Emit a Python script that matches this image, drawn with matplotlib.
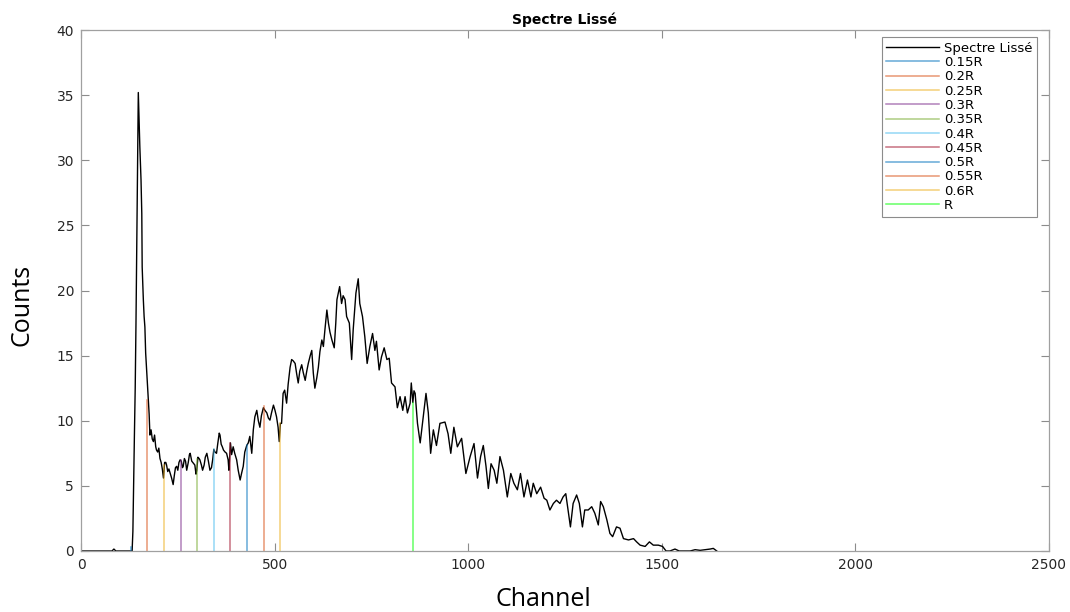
import numpy as np
import matplotlib
matplotlib.use("Agg")
import matplotlib.pyplot as plt

# smoothed spectrum (channel, counts)
channel = [0, 80, 85, 90, 132, 134, 136, 138, 140, 142, 144, 146, 148,
           150, 152, 155, 157, 158, 161, 163, 165, 167, 170, 174,
           176, 178, 181, 184, 187, 190, 193, 195, 198, 201, 204, 207, 210,
           213, 216, 219, 221, 224, 227, 230, 234, 238, 241, 244, 247, 250,
           253, 256, 259, 262, 264, 267, 270, 273, 277, 280, 282, 286, 290,
           294, 297, 299, 302, 305, 307, 311, 314, 318, 321, 325, 329, 333,
           337, 340, 343, 346, 350, 353, 357, 359, 362, 365, 368, 372, 376,
           380, 382, 386, 389, 393, 397, 402, 406, 411, 415, 419, 423, 428,
           432, 436, 441, 445, 449, 454, 458, 462, 466, 471, 475, 480, 484,
           488, 492, 497, 501, 505, 509, 512, 515, 518, 522, 526, 531, 535,
           540, 544, 548, 553, 557, 561, 565, 570, 574, 579, 583, 587, 592,
           596, 600, 604, 609, 613, 617, 622, 626, 630, 635, 639, 643, 648,
           654, 658, 661, 668, 673, 677, 682, 686, 693, 699, 703, 710, 716,
           720, 727, 733, 739, 746, 753, 759, 763, 770, 776, 783, 790, 796,
           802, 811, 817, 824, 831, 837, 843, 850, 853, 857, 860, 863, 869,
           876, 884, 891, 897, 903, 910, 918, 927, 940, 948, 955, 963, 972,
           983, 994, 1005, 1015, 1024, 1032, 1039, 1046, 1052, 1059, 1067,
           1074, 1082, 1091, 1101, 1110, 1118, 1127, 1135, 1144, 1153, 1162,
           1168, 1177, 1187, 1196, 1203, 1211, 1220, 1228, 1237, 1245, 1252,
           1258, 1264, 1271, 1280, 1287, 1295, 1301, 1310, 1319, 1327, 1336,
           1342, 1349, 1358, 1366, 1373, 1383, 1392, 1401, 1414, 1427, 1435,
           1444, 1457, 1468, 1478, 1491, 1502, 1511, 1521, 1534, 1545, 1556,
           1573, 1586, 1599, 1612, 1625, 1633, 1642]
counts = [0, 0, 0.15, 0, 0, 1.5, 5.5, 9.0, 12.5, 17.5, 23.5, 29.5, 35.2,
          33.0, 31.0, 28.5, 25.9, 21.8, 19.3, 18.0, 17.2, 15.2, 13.65, 11.6,
          10.5, 8.9, 9.3, 8.6, 8.4, 8.9, 8.0, 7.75, 7.6, 7.9, 7.1, 6.8, 6.3,
          5.6, 6.8, 6.8, 6.6, 6.1, 6.3, 6.0, 5.6, 5.1, 5.8, 6.4, 6.5, 6.2,
          6.8, 7.0, 6.9, 6.4, 6.5, 7.1, 6.9, 6.2, 6.8, 7.4, 7.5, 6.9, 6.75,
          6.6, 5.9, 6.2, 7.2, 7.1, 7.0, 6.6, 6.2, 6.6, 7.2, 7.5, 6.9, 6.2,
          6.4, 7.0, 7.8, 7.6, 7.5, 8.2, 9.05, 8.9, 8.2, 8.0, 7.75, 7.6, 7.5,
          7.0, 6.2, 8.3, 7.4, 8.0, 7.5, 7.0, 6.2, 5.45, 6.0, 6.5, 7.6, 8.1,
          8.3, 8.8, 7.5, 9.3, 10.3, 10.8, 10.0, 9.5, 10.4, 11.0, 10.8, 10.6, 10.2,
          10.05, 10.6, 11.2, 10.8, 10.3, 9.5, 8.4, 9.8, 9.8, 12.1, 12.35, 11.35, 12.8,
          14.1, 14.7, 14.6, 14.4, 13.6, 12.9, 13.8, 14.3, 13.7, 13.1, 13.8, 14.4, 15.0,
          15.4, 13.65, 12.5, 13.3, 14.1, 15.3, 16.2, 15.7, 17.0, 18.5, 17.5, 16.8, 16.2,
          15.6, 17.5, 19.3, 20.3, 19.0, 19.6, 19.3, 18.0, 17.5, 14.7, 17.0, 19.8, 20.9,
          19.0, 18.0, 16.45, 14.4, 15.7, 16.7, 15.4, 16.1, 13.9, 14.9, 15.6, 14.7, 14.8,
          12.9, 12.6, 11.0, 11.85, 10.8, 11.85, 10.6, 11.35, 12.9, 11.4, 12.3, 12.1, 9.8,
          8.3, 10.3, 12.1, 10.6, 7.5, 9.3, 8.1, 9.8, 9.9, 9.0, 7.5, 9.5, 8.0,
          8.65, 5.95, 7.25, 8.25, 5.6, 7.25, 8.1, 6.5, 4.8, 6.7, 6.2,
          5.2, 7.25, 6.2, 4.15, 5.95, 5.2, 4.7, 5.95, 4.15, 5.45, 4.15,
          5.2, 4.4, 4.9, 4.05, 3.9, 3.15, 3.65, 3.9, 3.65, 4.15, 4.4,
          3.15, 1.85, 3.65, 4.3, 3.65, 1.85, 3.15, 3.15, 3.4, 2.9, 2.0,
          3.8, 3.4, 2.4, 1.35, 1.1, 1.85, 1.75, 0.95, 0.85, 0.95, 0.7,
          0.45, 0.35, 0.7, 0.45, 0.45, 0.35, 0.0, 0.0, 0.15, 0.0, 0.0,
          0.0, 0.1, 0.05, 0.1, 0.15, 0.2, 0.0]

# marker lines at fractions of R
R = 857
fractions = [0.15, 0.2, 0.25, 0.3, 0.35, 0.4, 0.45, 0.5, 0.55, 0.6, 1.0]
labels = ['0.15R', '0.2R', '0.25R', '0.3R', '0.35R', '0.4R', '0.45R',
          '0.5R', '0.55R', '0.6R', 'R']
heights = [0.3, 11.6, 6.6, 7.0, 7.1, 7.8, 8.3, 8.1, 11.1, 9.8, 11.35]
colors = ['#0072BD', '#D95319', '#EDB120', '#7E2F8E', '#77AC30', '#4DBEEE',
          '#A2142F', '#0072BD', '#D95319', '#EDB120', '#00FF00']

fig = plt.figure(figsize=(10.7, 6.12), dpi=100)
ax = fig.add_axes([81 / 1070, 1 - 551 / 612, 968 / 1070, 521 / 612])

ax.plot(channel, counts, color='black', lw=1.0, label='Spectre Lissé')
for f, h, c, lab in zip(fractions, heights, colors, labels):
    ax.plot([f * R, f * R], [0, h], color=c, lw=1.1, alpha=0.6, label=lab)

ax.set_xlim(0, 2500)
ax.set_ylim(0, 40)
ax.set_xticks(np.arange(0, 2501, 500))
ax.set_yticks(np.arange(0, 41, 5))
ax.tick_params(direction='in', length=6, width=0.8, color='#8c8c8c',
               labelcolor='#262626', labelsize=10, top=True, right=True, pad=5)
for s in ax.spines.values():
    s.set_color('#a0a0a0')
    s.set_linewidth(0.9)

ax.set_title('Spectre Lissé', fontsize=10, fontweight='bold', pad=4)
fig.text(543 / 1070, 1 - 600 / 612, 'Channel', family='Open Sans',
         fontsize=18, ha='center', va='center')
fig.text(22 / 1070, 1 - 305 / 612, 'Counts', family='Open Sans',
         fontsize=18, ha='center', va='center', rotation=90)

leg = ax.legend(loc='upper right', bbox_to_anchor=(0.9876, 0.9866),
                borderaxespad=0, fontsize=9.5, handlelength=4.0,
                handletextpad=0.35, labelspacing=0.1, borderpad=0.35,
                fancybox=False, framealpha=1)
leg.get_frame().set_edgecolor('#8c8c8c')
leg.get_frame().set_linewidth(0.8)

fig.savefig('out.png', dpi=100)
